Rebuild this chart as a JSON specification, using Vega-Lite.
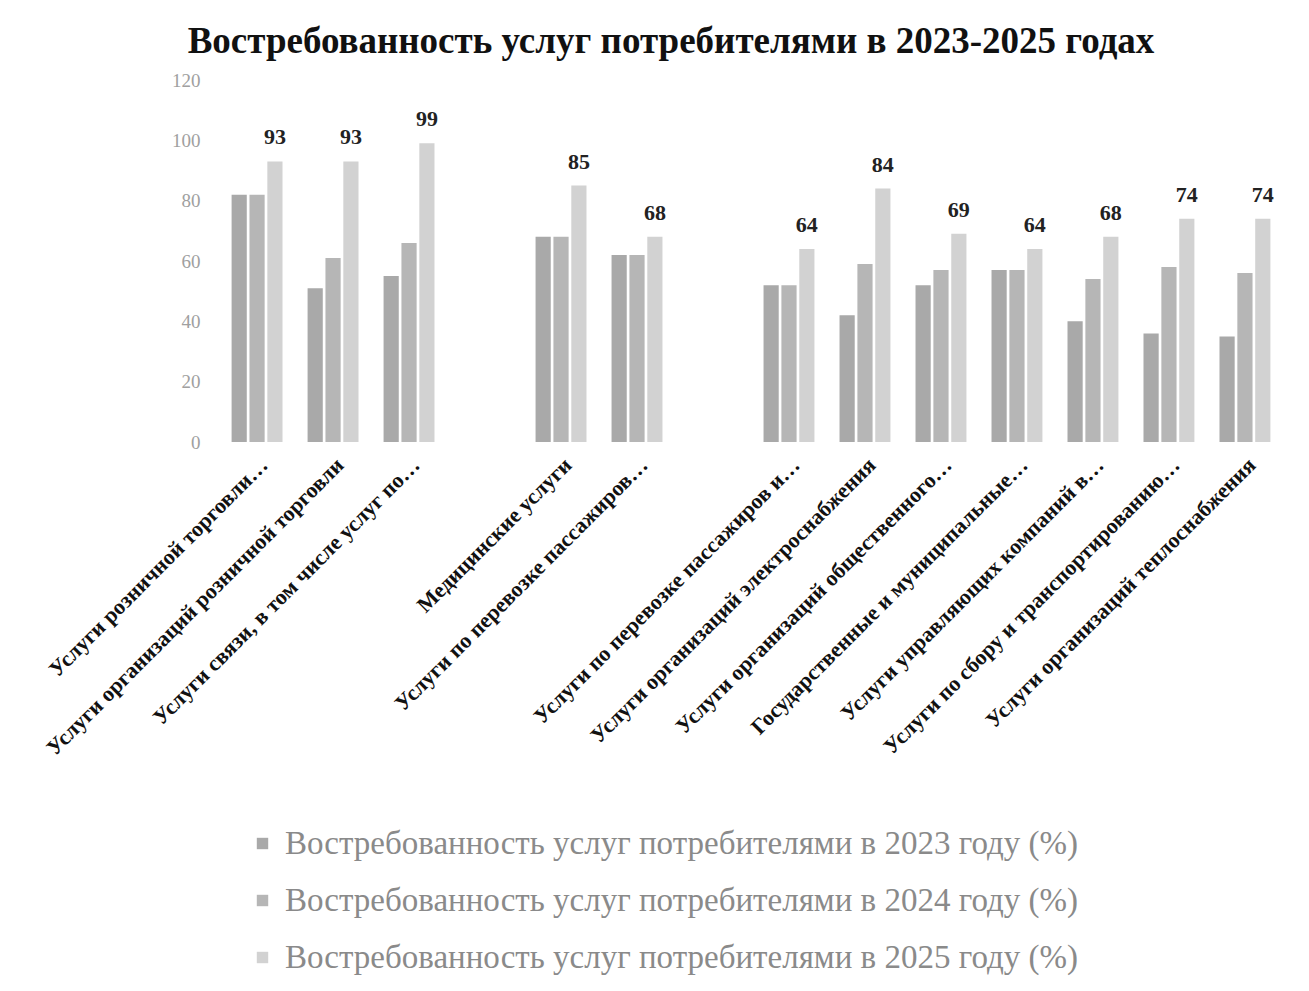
{
  "$schema": "https://vega.github.io/schema/vega-lite/v6.json",
  "autosize": {"type": "none"},
  "width": 1054,
  "height": 362,
  "padding": {"left": 224, "top": 80, "right": 31, "bottom": 549},
  "title": {
    "text": "Востребованность услуг потребителями в 2023-2025 годах",
    "font": "Liberation Serif",
    "fontSize": 37,
    "fontWeight": "bold",
    "color": "#111111",
    "anchor": "middle",
    "dx": -80,
    "offset": 10
  },
  "data": {
    "values": [
      {"cat": "Услуги розничной торговли…", "year": "2023", "value": 82},
      {"cat": "Услуги розничной торговли…", "year": "2024", "value": 82},
      {"cat": "Услуги розничной торговли…", "year": "2025", "value": 93},
      {"cat": "Услуги организаций розничной торговли", "year": "2023", "value": 51},
      {"cat": "Услуги организаций розничной торговли", "year": "2024", "value": 61},
      {"cat": "Услуги организаций розничной торговли", "year": "2025", "value": 93},
      {"cat": "Услуги связи, в том числе услуг по…", "year": "2023", "value": 55},
      {"cat": "Услуги связи, в том числе услуг по…", "year": "2024", "value": 66},
      {"cat": "Услуги связи, в том числе услуг по…", "year": "2025", "value": 99},
      {"cat": "Медицинские услуги", "year": "2023", "value": 68},
      {"cat": "Медицинские услуги", "year": "2024", "value": 68},
      {"cat": "Медицинские услуги", "year": "2025", "value": 85},
      {"cat": "Услуги по перевозке пассажиров…", "year": "2023", "value": 62},
      {"cat": "Услуги по перевозке пассажиров…", "year": "2024", "value": 62},
      {"cat": "Услуги по перевозке пассажиров…", "year": "2025", "value": 68},
      {"cat": "Услуги по перевозке пассажиров и…", "year": "2023", "value": 52},
      {"cat": "Услуги по перевозке пассажиров и…", "year": "2024", "value": 52},
      {"cat": "Услуги по перевозке пассажиров и…", "year": "2025", "value": 64},
      {"cat": "Услуги организаций электроснабжения", "year": "2023", "value": 42},
      {"cat": "Услуги организаций электроснабжения", "year": "2024", "value": 59},
      {"cat": "Услуги организаций электроснабжения", "year": "2025", "value": 84},
      {"cat": "Услуги организаций общественного…", "year": "2023", "value": 52},
      {"cat": "Услуги организаций общественного…", "year": "2024", "value": 57},
      {"cat": "Услуги организаций общественного…", "year": "2025", "value": 69},
      {"cat": "Государственные и муниципальные…", "year": "2023", "value": 57},
      {"cat": "Государственные и муниципальные…", "year": "2024", "value": 57},
      {"cat": "Государственные и муниципальные…", "year": "2025", "value": 64},
      {"cat": "Услуги управляющих компаний в…", "year": "2023", "value": 40},
      {"cat": "Услуги управляющих компаний в…", "year": "2024", "value": 54},
      {"cat": "Услуги управляющих компаний в…", "year": "2025", "value": 68},
      {"cat": "Услуги по сбору и транспортированию…", "year": "2023", "value": 36},
      {"cat": "Услуги по сбору и транспортированию…", "year": "2024", "value": 58},
      {"cat": "Услуги по сбору и транспортированию…", "year": "2025", "value": 74},
      {"cat": "Услуги организаций теплоснабжения", "year": "2023", "value": 35},
      {"cat": "Услуги организаций теплоснабжения", "year": "2024", "value": 56},
      {"cat": "Услуги организаций теплоснабжения", "year": "2025", "value": 74}
    ]
  },
  "encoding": {
    "x": {
      "field": "cat",
      "type": "nominal",
      "sort": null,
      "scale": {
        "domain": [
          "Услуги розничной торговли…",
          "Услуги организаций розничной торговли",
          "Услуги связи, в том числе услуг по…",
          " ",
          "Медицинские услуги",
          "Услуги по перевозке пассажиров…",
          "  ",
          "Услуги по перевозке пассажиров и…",
          "Услуги организаций электроснабжения",
          "Услуги организаций общественного…",
          "Государственные и муниципальные…",
          "Услуги управляющих компаний в…",
          "Услуги по сбору и транспортированию…",
          "Услуги организаций теплоснабжения"
        ],
        "paddingInner": 0.33,
        "paddingOuter": 0.1
      },
      "axis": {
        "title": null,
        "labelAngle": -45,
        "labelFont": "Liberation Serif",
        "labelFontSize": 22,
        "labelFontWeight": "bold",
        "labelColor": "#111111",
        "labelLimit": 500,
        "labelPadding": 12,
        "domain": false,
        "ticks": false
      }
    },
    "xOffset": {"field": "year", "type": "nominal", "scale": {"paddingInner": 0.15}},
    "y": {
      "field": "value",
      "type": "quantitative",
      "scale": {"domain": [0, 120]},
      "axis": {
        "title": null,
        "values": [0, 20, 40, 60, 80, 100, 120],
        "labelFont": "Liberation Serif",
        "labelFontSize": 19,
        "labelColor": "#a0a0a0",
        "labelPadding": 24,
        "domain": false,
        "ticks": false,
        "grid": false
      }
    }
  },
  "layer": [
    {
      "mark": {"type": "bar"},
      "encoding": {
        "color": {
          "field": "year",
          "type": "nominal",
          "scale": {"domain": ["2023", "2024", "2025"], "range": ["#a9a9a9", "#b6b6b6", "#d2d2d2"]},
          "legend": {
            "title": null,
            "orient": "none",
            "direction": "vertical",
            "legendX": 22,
            "legendY": 747,
            "symbolType": "square",
            "symbolSize": 130,
            "labelFont": "Liberation Serif",
            "labelFontSize": 33,
            "labelColor": "#8a8a8a",
            "labelLimit": 1100,
            "labelOffset": 6,
            "rowPadding": 23,
            "labelExpr": "'Востребованность услуг потребителями в ' + datum.label + ' году (%)'"
          }
        }
      }
    },
    {
      "transform": [{"filter": "datum.year == '2025'"}],
      "mark": {
        "type": "text",
        "baseline": "bottom",
        "dy": -12,
        "font": "Liberation Serif",
        "fontSize": 22,
        "fontWeight": "bold",
        "color": "#222222"
      },
      "encoding": {"text": {"field": "value", "type": "quantitative"}}
    }
  ],
  "config": {"view": {"stroke": null}, "background": "white"}
}
